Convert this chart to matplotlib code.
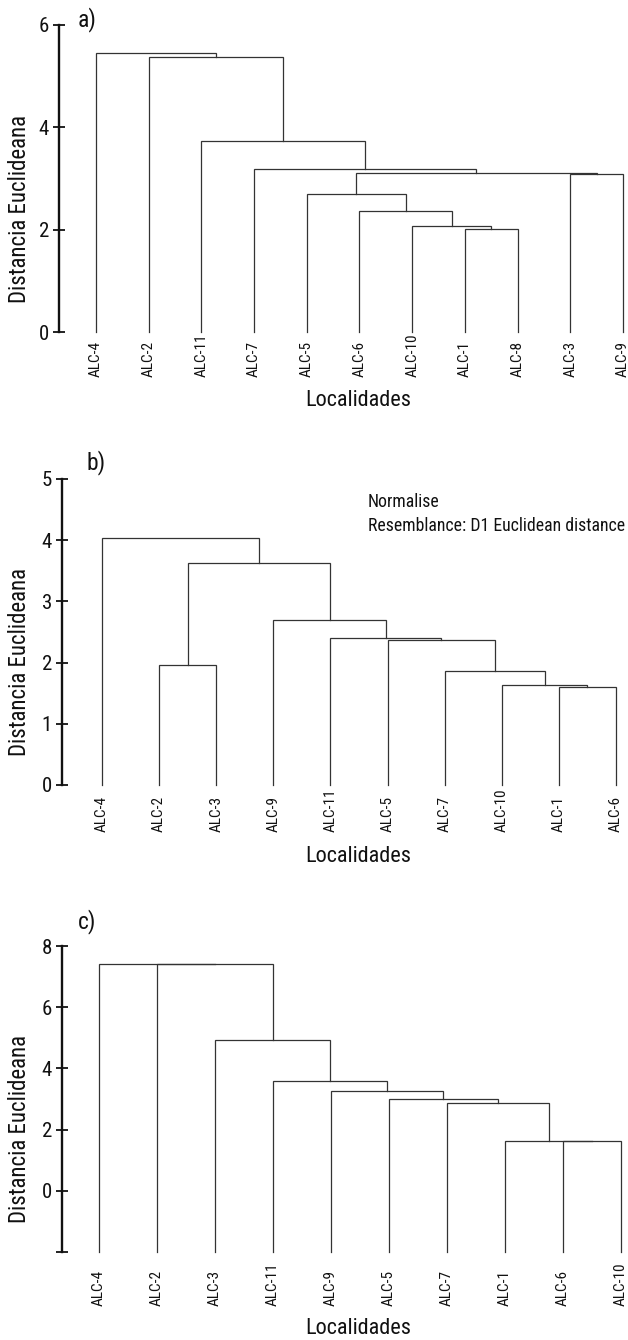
import matplotlib
matplotlib.use("Agg")
import matplotlib.pyplot as plt
from matplotlib.transforms import blended_transform_factory

plt.rcParams['font.family'] = ['Roboto Condensed', 'DejaVu Sans']

# ---- datos de los dendrogramas ----
# a) orden de hojas y uniones (hijo izq, hijo der, altura); enteros = union previa
leaves_a = ['ALC-4', 'ALC-2', 'ALC-11', 'ALC-7', 'ALC-5', 'ALC-6',
            'ALC-10', 'ALC-1', 'ALC-8', 'ALC-3', 'ALC-9']
merges_a = [('ALC-1', 'ALC-8', 2.02), ('ALC-10', 0, 2.07), ('ALC-6', 1, 2.37),
            ('ALC-5', 2, 2.70), ('ALC-3', 'ALC-9', 3.09), (3, 4, 3.10),
            ('ALC-7', 5, 3.19), ('ALC-11', 6, 3.74), ('ALC-2', 7, 5.37),
            ('ALC-4', 8, 5.45)]
yticks_a = [0, 2, 4, 6]
yticklabels_a = ['0', '2', '4', '6']

# b)
leaves_b = ['ALC-4', 'ALC-2', 'ALC-3', 'ALC-9', 'ALC-11', 'ALC-5',
            'ALC-7', 'ALC-10', 'ALC-1', 'ALC-6']
merges_b = [('ALC-1', 'ALC-6', 1.60), ('ALC-10', 0, 1.64), ('ALC-7', 1, 1.86),
            ('ALC-5', 2, 2.375), ('ALC-11', 3, 2.40), ('ALC-9', 4, 2.70),
            ('ALC-2', 'ALC-3', 1.96), (6, 5, 3.63), ('ALC-4', 7, 4.04)]
yticks_b = [0, 1, 2, 3, 4, 5]
yticklabels_b = ['0', '1', '2', '3', '4', '5']

# c)
leaves_c = ['ALC-4', 'ALC-2', 'ALC-3', 'ALC-11', 'ALC-9', 'ALC-5',
            'ALC-7', 'ALC-1', 'ALC-6', 'ALC-10']
merges_c = [('ALC-6', 'ALC-10', 1.64), ('ALC-1', 0, 1.64), ('ALC-7', 1, 2.87),
            ('ALC-5', 2, 3.00), ('ALC-9', 3, 3.27), ('ALC-11', 4, 3.58),
            ('ALC-3', 5, 4.92), ('ALC-2', 6, 7.40), ('ALC-4', 7, 7.42)]
yticks_c = [-2, 0, 2, 4, 6, 8]
yticklabels_c = ['', '0', '2', '4', '6', '8']

W, H = 628, 1340
fig = plt.figure(figsize=(W / 100, H / 100), dpi=100)
LINE = '#333333'
TXT = '#111111'


def fx(px):
    return px / W


def fy(py):
    return 1 - py / H


def draw_dendro(ax, leaves, merges, base):
    pos = {name: i for i, name in enumerate(leaves)}
    nodes = []  # (x, top)

    def get(c):
        if isinstance(c, int):
            return nodes[c]
        return pos[c], base

    for left, right, h in merges:
        xl, yl = get(left)
        xr, yr = get(right)
        ax.plot([xl, xl, xr, xr], [yl, h, h, yr], color=LINE, lw=0.9,
                clip_on=False, solid_joinstyle='miter')
        nodes.append(((xl + xr) / 2, h))


def panel(box, xlim, ylim, leaves, merges, base, yticks, yticklabels,
          label_bottom, ylab_y, xlab_y, tag, tag_xy):
    left, top, right, bottom = box
    ax = fig.add_axes([fx(left), fy(bottom), fx(right - left), (bottom - top) / H])
    draw_dendro(ax, leaves, merges, base)
    ax.set_xlim(*xlim)
    ax.set_ylim(*ylim)
    for s in ['top', 'right', 'bottom']:
        ax.spines[s].set_visible(False)
    ax.spines['left'].set_linewidth(1.7)
    ax.spines['left'].set_color('#111111')
    ax.set_xticks([])
    ax.set_yticks(yticks)
    ax.set_yticklabels(yticklabels, fontsize=15, color=TXT)
    ax.tick_params(axis='y', direction='inout', length=8.5, width=1.3,
                   pad=3, color='#111111')
    ax.patch.set_alpha(0)

    # etiquetas de localidades alineadas por abajo
    tr = blended_transform_factory(ax.transData, fig.transFigure)
    for i, name in enumerate(leaves):
        ax.text(i, fy(label_bottom), name, rotation=90, ha='center', va='bottom',
                fontsize=11, transform=tr, color=TXT)

    fig.text(fx(20), fy(ylab_y), 'Distancia Euclideana', rotation=90,
             ha='center', va='center', fontsize=16.5, color=TXT)
    fig.text(fx(358), fy(xlab_y), 'Localidades', ha='center', va='center',
             fontsize=16, color=TXT)
    fig.text(fx(tag_xy[0]), fy(tag_xy[1]), tag, ha='left', va='center',
             fontsize=17, color=TXT)
    return ax


# a)
panel((59, 25, 628, 332), (-0.702, 10.095), (0, 6), leaves_a, merges_a, 0,
      yticks_a, yticklabels_a, 377, 209, 400, 'a)', (78, 20))

# b)
panel((62, 479, 628, 785), (-0.70, 9.21), (0, 5), leaves_b, merges_b, 0,
      yticks_b, yticklabels_b, 832, 662, 857, 'b)', (86, 463))
fig.text(fx(368), fy(502), 'Normalise', ha='left', va='center', fontsize=12.8,
         color=TXT)
fig.text(fx(368), fy(526), 'Resemblance: D1 Euclidean distance', ha='left',
         va='center', fontsize=12.8, color=TXT)

# c)
panel((62, 946, 628, 1252), (-0.637, 9.12), (-2, 8), leaves_c, merges_c, -2,
      yticks_c, yticklabels_c, 1306, 1129, 1329, 'c)', (78, 922))

fig.savefig('out.png', dpi=100)
